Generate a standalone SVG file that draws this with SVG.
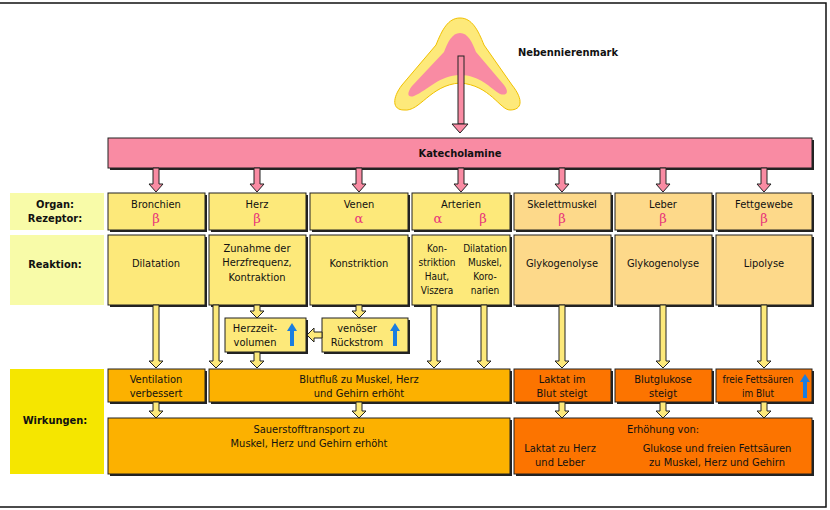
<svg xmlns="http://www.w3.org/2000/svg" width="830" height="510" viewBox="0 0 830 510">
<style>
text{font-family:"DejaVu Sans Condensed","DejaVu Sans",sans-serif;font-size:11px;fill:#111;text-anchor:middle}
.b{font-weight:bold}
.s{font-size:10px}
.g{fill:#e8367a;font-family:"DejaVu Serif",serif;font-size:13px}
.sh{fill:#222}
rect.bx{stroke:#222;stroke-width:1}
.y{fill:#fde97a}.o{fill:#fdd98a}.l{fill:#f8fba8}.w{fill:#f5e600}.a{fill:#fcb100}.r{fill:#fc7400}.p{fill:#f98ba3}
.ar{fill:#fde97a;stroke:#222;stroke-width:1}
.pa{fill:#f98ba3;stroke:#222;stroke-width:1}
.bl{fill:#1a7de0}
</style>
<rect x="0" y="0" width="830" height="510" fill="#fff"/>
<path d="M0,3 H826 V507 H0" fill="none" stroke="#111" stroke-width="1.5"/>
<g id="gland">
<path d="M460,18 C472,18 478,30 484,45 L512,85 C524,100 522,110 510,110 C500,110 490,85 460,83 C430,85 420,112 404,110 C392,110 392,98 402,85 L436,45 C442,30 448,18 460,18 Z" fill="#fde97a" stroke="#f0c000" stroke-width="1"/>
<path d="M460,33 C468,33 472,42 476,52 L504,85 C510,93 506,96 500,94 C490,88 480,75 460,75 C440,75 428,90 414,96 C408,98 406,94 412,86 L444,52 C448,42 452,33 460,33 Z" fill="#f98ba3"/>
<text x="568" y="56" class="b">Nebennierenmark</text>
</g>
<g id="katecholamine">
<rect x="110" y="140" width="704" height="30" class="sh"/>
<rect x="108" y="138" width="704" height="30" class="bx p"/>
<text x="460" y="157" class="b">Katecholamine</text>
</g>
<g id="labels">
<rect x="10" y="193" width="94" height="37" class="l"/>
<text x="55" y="208" class="b">Organ:</text><text x="55" y="222" class="b">Rezeptor:</text>
<rect x="10" y="235" width="94" height="70" class="l"/>
<text x="55" y="268" class="b">Reaktion:</text>
<rect x="10" y="369" width="94" height="105" class="w"/>
<text x="55" y="424" class="b">Wirkungen:</text>
</g>
<g id="organs">
<g id="bronchien"><rect x="110" y="195" width="97" height="37" class="sh"/><rect x="108" y="193" width="97" height="37" class="bx y"/><text x="156" y="208">Bronchien</text><text x="156" y="223" class="g">β</text></g>
<g id="herz"><rect x="211" y="195" width="97" height="37" class="sh"/><rect x="209" y="193" width="97" height="37" class="bx y"/><text x="257" y="208">Herz</text><text x="257" y="223" class="g">β</text></g>
<g id="venen"><rect x="312" y="195" width="98" height="37" class="sh"/><rect x="310" y="193" width="98" height="37" class="bx y"/><text x="359" y="208">Venen</text><text x="359" y="223" class="g">α</text></g>
<g id="arterien"><rect x="414" y="195" width="98" height="37" class="sh"/><rect x="412" y="193" width="98" height="37" class="bx y"/><text x="461" y="208">Arterien</text><text x="438" y="223" class="g">α</text><text x="483" y="223" class="g">β</text></g>
<g id="skelett"><rect x="516" y="195" width="97" height="37" class="sh"/><rect x="514" y="193" width="97" height="37" class="bx o"/><text x="562" y="208">Skelettmuskel</text><text x="562" y="223" class="g">β</text></g>
<g id="leber"><rect x="617" y="195" width="97" height="37" class="sh"/><rect x="615" y="193" width="97" height="37" class="bx o"/><text x="663" y="208">Leber</text><text x="663" y="223" class="g">β</text></g>
<g id="fett"><rect x="718" y="195" width="96" height="37" class="sh"/><rect x="716" y="193" width="96" height="37" class="bx o"/><text x="764" y="208">Fettgewebe</text><text x="764" y="223" class="g">β</text></g>
</g>
<g id="reactions">
<g id="r1"><rect x="110" y="237" width="97" height="70" class="sh"/><rect x="108" y="235" width="97" height="70" class="bx y"/><text x="156" y="267">Dilatation</text></g>
<g id="r2"><rect x="211" y="237" width="97" height="70" class="sh"/><rect x="209" y="235" width="97" height="70" class="bx y"/><text x="257" y="252">Zunahme der</text><text x="257" y="266">Herzfrequenz,</text><text x="257" y="281">Kontraktion</text></g>
<g id="r3"><rect x="312" y="237" width="98" height="70" class="sh"/><rect x="310" y="235" width="98" height="70" class="bx y"/><text x="359" y="267">Konstriktion</text></g>
<g id="r4"><rect x="414" y="237" width="98" height="70" class="sh"/><rect x="412" y="235" width="98" height="70" class="bx y"/>
<text x="437" y="252" class="s">Kon-</text><text x="437" y="266" class="s">striktion</text><text x="437" y="280" class="s">Haut,</text><text x="437" y="294" class="s">Viszera</text>
<text x="485" y="252" class="s">Dilatation</text><text x="485" y="266" class="s">Muskel,</text><text x="485" y="280" class="s">Koro-</text><text x="485" y="294" class="s">narien</text></g>
<g id="r5"><rect x="516" y="237" width="97" height="70" class="sh"/><rect x="514" y="235" width="97" height="70" class="bx o"/><text x="562" y="267">Glykogenolyse</text></g>
<g id="r6"><rect x="617" y="237" width="97" height="70" class="sh"/><rect x="615" y="235" width="97" height="70" class="bx o"/><text x="663" y="267">Glykogenolyse</text></g>
<g id="r7"><rect x="718" y="237" width="96" height="70" class="sh"/><rect x="716" y="235" width="96" height="70" class="bx o"/><text x="764" y="267">Lipolyse</text></g>
</g>
<g id="herzzeit"><rect x="227" y="320" width="81" height="34" class="sh"/><rect x="225" y="318" width="81" height="34" class="bx y"/><text x="255" y="332">Herzzeit-</text><text x="255" y="346">volumen</text>
<path d="M292,323 L297,331 H294 V346 H290 V331 H287 Z" class="bl"/></g>
<g id="venoes"><rect x="324" y="320" width="86" height="34" class="sh"/><rect x="322" y="318" width="86" height="34" class="bx y"/><text x="357" y="332">venöser</text><text x="357" y="346">Rückstrom</text>
<path d="M395,323 L400,331 H397 V346 H393 V331 H390 Z" class="bl"/></g>
<g id="wirkungen">
<g id="w1"><rect x="110" y="371" width="97" height="33" class="sh"/><rect x="108" y="369" width="97" height="33" class="bx a"/><text x="156" y="383">Ventilation</text><text x="156" y="397">verbessert</text></g>
<g id="w2"><rect x="211" y="371" width="301" height="33" class="sh"/><rect x="209" y="369" width="301" height="33" class="bx a"/><text x="359" y="383">Blutfluß zu Muskel, Herz</text><text x="359" y="397">und Gehirn erhöht</text></g>
<g id="w3"><rect x="516" y="371" width="97" height="33" class="sh"/><rect x="514" y="369" width="97" height="33" class="bx r"/><text x="562" y="383">Laktat im</text><text x="562" y="397">Blut steigt</text></g>
<g id="w4"><rect x="617" y="371" width="97" height="33" class="sh"/><rect x="615" y="369" width="97" height="33" class="bx r"/><text x="663" y="383">Blutglukose</text><text x="663" y="397">steigt</text></g>
<g id="w5"><rect x="718" y="371" width="96" height="33" class="sh"/><rect x="716" y="369" width="96" height="33" class="bx r"/><text x="758" y="383" class="s">freie Fettsäuren</text><text x="758" y="397" class="s">im Blut</text>
<path d="M805,374 L810,382 H807 V398 H803 V382 H800 Z" class="bl"/></g>
<g id="w6"><rect x="110" y="420" width="402" height="56" class="sh"/><rect x="108" y="418" width="402" height="56" class="bx a"/><text x="309" y="433">Sauerstofftransport zu</text><text x="309" y="447">Muskel, Herz und Gehirn erhöht</text></g>
<g id="w7"><rect x="516" y="420" width="298" height="56" class="sh"/><rect x="514" y="418" width="298" height="56" class="bx r"/><text x="663" y="433">Erhöhung von:</text><text x="560" y="452">Laktat zu Herz</text><text x="560" y="466">und Leber</text><text x="717" y="452">Glukose und freien Fettsäuren</text><text x="717" y="466">zu Muskel, Herz und Gehirn</text></g>
</g>
<g id="connectors">
<rect x="458" y="56" width="6" height="68" class="pa"/>
<path d="M452,124 H468 L460,133 Z" class="pa"/>
<path d="M153,168 H159 V184 H163 L156,192 L149,184 H153 Z" class="pa"/>
<path d="M254,168 H260 V184 H264 L257,192 L250,184 H254 Z" class="pa"/>
<path d="M356,168 H362 V184 H366 L359,192 L352,184 H356 Z" class="pa"/>
<path d="M458,168 H464 V184 H468 L461,192 L454,184 H458 Z" class="pa"/>
<path d="M559,168 H565 V184 H569 L562,192 L555,184 H559 Z" class="pa"/>
<path d="M660,168 H666 V184 H670 L663,192 L656,184 H660 Z" class="pa"/>
<path d="M761,168 H767 V184 H771 L764,192 L757,184 H761 Z" class="pa"/>
<path d="M153,305 H159 V361 H163 L156,368 L149,361 H153 Z" class="ar"/>
<path d="M213,305 H219 V361 H223 L216,368 L209,361 H213 Z" class="ar"/>
<path d="M254,305 H260 V311 H264 L257,318 L250,311 H254 Z" class="ar"/>
<path d="M356,305 H362 V311 H366 L359,318 L352,311 H356 Z" class="ar"/>
<path d="M254,352 H260 V361 H264 L257,368 L250,361 H254 Z" class="ar"/>
<path d="M431,305 H437 V361 H441 L434,368 L427,361 H431 Z" class="ar"/>
<path d="M481,305 H487 V361 H491 L484,368 L477,361 H481 Z" class="ar"/>
<path d="M559,305 H565 V361 H569 L562,368 L555,361 H559 Z" class="ar"/>
<path d="M660,305 H666 V361 H670 L663,368 L656,361 H660 Z" class="ar"/>
<path d="M761,305 H767 V361 H771 L764,368 L757,361 H761 Z" class="ar"/>
<path d="M322,332 H314 V328 L307,335 L314,342 V338 H322 Z" class="ar"/>
<path d="M153,402 H159 V411 H163 L156,418 L149,411 H153 Z" class="ar"/>
<path d="M356,402 H362 V411 H366 L359,418 L352,411 H356 Z" class="ar"/>
<path d="M559,402 H565 V411 H569 L562,418 L555,411 H559 Z" class="ar"/>
<path d="M660,402 H666 V411 H670 L663,418 L656,411 H660 Z" class="ar"/>
<path d="M761,402 H767 V411 H771 L764,418 L757,411 H761 Z" class="ar"/>
</g>
</svg>
